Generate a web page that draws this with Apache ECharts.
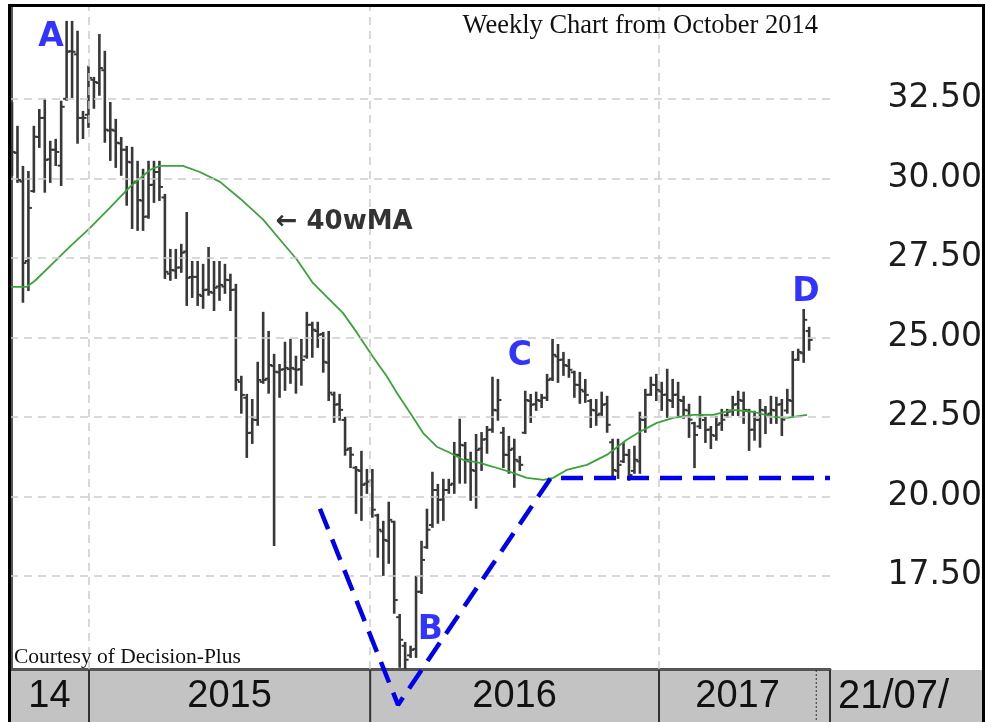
<!DOCTYPE html>
<html><head><meta charset="utf-8">
<script src="https://cdn.jsdelivr.net/npm/echarts@6/dist/echarts.min.js"></script>
<style>html,body{margin:0;padding:0;background:#fff}#c{width:985px;height:722px}</style>
</head><body><div id="c"></div>
<script>
// Weekly OHLC bars (week index = array index, first bar late Sep / early Oct 2014)
const opens = [31.6,30.8,29.9,27.4,29.6,31.3,31.9,30.6,30.9,30.4,
32.5,34.0,33.9,31.9,32.0,33.1,33.0,33.4,31.5,31.5,
31.1,30.9,30.5,29.9,29.3,28.8,29.8,30.2,29.4,27.0,
27.1,27.2,27.7,26.9,26.9,26.3,26.5,26.4,26.6,26.6,
26.8,26.5,23.6,23.1,22.0,22.4,23.6,23.7,24.1,23.9,
24.0,24.0,24.0,24.0,24.4,25.4,25.2,25.1,24.2,23.2,
22.9,22.4,21.5,20.9,20.8,20.4,20.5,19.4,18.9,18.6,
19.2,16.2,15.3,15.0,15.2,17.0,18.4,19.1,20.2,19.9,
20.2,20.4,21.3,21.6,21.1,20.8,21.5,21.8,22.1,22.7,
22.0,21.3,21.5,21.1,22.0,23.0,22.9,23.0,23.1,23.7,
24.4,24.3,24.1,23.9,23.5,23.3,23.0,22.7,22.6,22.9,
21.7,20.8,21.1,21.3,20.8,21.1,22.4,23.2,23.5,23.3,
23.2,23.0,23.2,23.0,22.7,22.3,22.2,22.4,22.1,21.9,
22.3,22.55,22.7,22.9,23.0,22.7,22.1,22.4,22.7,22.6,
22.7,22.9,22.7,23.0,24.3,24.5,25.2];
const highs = [32.37,31.62,30.36,30.20,31.62,32.15,32.47,31.15,31.21,32.41,
34.92,34.92,34.61,32.09,33.51,33.16,34.51,33.98,32.37,31.84,
31.27,30.99,30.96,30.52,30.27,30.52,30.52,30.52,29.48,27.75,
27.75,27.91,28.91,27.37,27.37,27.28,27.81,27.37,27.37,27.28,
26.97,26.65,23.76,23.19,23.03,24.20,25.77,25.17,24.45,24.13,
24.83,24.92,24.39,24.92,25.77,25.46,25.46,25.14,25.17,23.26,
23.19,22.47,21.52,20.92,21.40,20.83,20.83,19.42,19.20,19.80,
19.20,16.27,15.39,15.27,17.47,18.57,19.58,20.74,20.36,20.52,
20.52,21.68,22.41,21.68,21.37,21.93,21.99,22.18,23.73,23.66,
22.15,21.87,21.78,21.24,23.29,23.19,23.26,23.19,23.82,24.92,
24.76,24.51,24.29,23.92,23.88,23.66,23.03,23.03,23.26,23.13,
21.78,21.78,21.68,21.46,21.56,22.63,23.35,23.73,23.82,23.57,
23.98,23.66,23.57,23.13,22.88,22.31,23.13,22.47,22.18,22.50,
22.72,22.72,23.13,23.29,23.26,22.72,22.66,23.03,22.81,23.13,
23.10,23.03,23.35,24.54,24.61,25.86,25.30];
const lows = [30.11,29.89,26.12,26.49,29.58,30.99,29.58,29.89,30.42,29.79,
32.47,32.56,31.12,31.27,31.62,32.22,32.63,31.15,30.58,30.36,
30.11,29.17,28.44,28.38,28.38,28.76,29.26,29.32,26.87,26.81,
26.87,27.06,26.02,26.27,26.02,25.93,26.34,25.86,26.18,26.40,
25.86,23.35,22.63,21.24,21.68,22.25,23.57,23.26,18.47,23.13,
23.35,23.57,23.26,23.51,24.36,24.39,24.70,23.92,23.03,22.34,
22.41,21.31,20.92,19.48,19.26,20.11,19.36,18.10,17.53,17.91,
16.34,14.64,14.60,14.95,14.95,16.96,18.38,19.04,19.17,19.26,
20.11,20.11,20.43,20.43,19.89,19.64,20.83,21.37,22.03,22.41,
20.92,20.74,20.30,20.83,21.99,22.34,22.72,22.81,23.03,23.66,
23.60,23.82,23.76,23.13,22.94,22.97,22.18,22.25,22.56,22.03,
20.58,20.58,21.08,20.52,20.74,20.74,22.03,23.19,23.03,22.72,
22.50,22.81,22.56,22.47,21.87,20.92,22.15,21.71,21.52,21.78,
22.09,22.50,22.56,22.56,22.31,21.46,21.78,21.56,21.99,22.31,
22.31,21.93,22.63,22.56,24.29,24.23,24.61];
const closes = [30.83,29.95,27.34,29.07,31.31,31.90,30.58,30.90,30.83,32.25,
33.98,33.98,31.90,31.90,33.16,33.03,33.47,31.53,31.53,31.12,
30.90,30.52,29.86,29.32,28.79,29.79,30.20,29.73,27.06,27.12,
27.19,27.66,26.87,26.90,26.34,26.49,26.43,26.56,26.65,26.81,
26.49,23.66,23.19,21.99,22.41,23.66,23.66,24.13,23.92,23.98,
24.04,24.04,23.98,24.29,25.39,25.24,25.08,24.23,23.26,22.88,
22.72,21.46,21.31,20.83,20.36,20.46,19.58,18.95,18.63,19.26,
16.74,15.49,14.86,15.17,17.00,18.00,18.95,20.20,19.89,20.20,
20.36,21.31,21.62,21.15,20.83,21.46,21.78,22.09,22.72,23.03,
21.31,21.46,21.15,20.99,23.03,22.88,23.03,23.10,23.66,24.45,
24.29,24.13,23.98,23.51,23.35,23.19,22.72,22.56,22.88,22.25,
20.83,20.99,21.31,20.67,21.15,22.41,23.19,23.51,23.35,23.19,
23.03,23.19,23.03,22.72,22.41,21.93,22.56,22.09,21.93,22.25,
22.41,22.66,22.88,23.03,22.72,22.09,22.41,22.72,22.56,22.72,
22.88,22.41,23.03,24.29,24.54,25.55,24.92];

// 40-week moving average: [week index, value]
const ma40 = [[-0.4,26.59],[2.7,26.59],[4.2,26.78],[7.0,27.25],[10.6,27.85],[14.1,28.41],
[17.9,29.07],[21.6,29.73],[25.3,30.27],[27.1,30.39],[31.3,30.39],[34.4,30.20],[38.1,29.89],
[41.8,29.36],[46.0,28.70],[49.1,28.07],[52.2,27.44],[55.1,26.71],[58.2,26.18],[60.6,25.77],
[63.2,25.14],[66.1,24.39],[68.7,23.76],[70.5,23.25],[72.9,22.63],[75.3,21.99],[77.8,21.56],
[80.2,21.37],[82.6,21.15],[85.7,21.05],[88.1,20.93],[91.2,20.77],[94.3,20.58],[97.3,20.52],
[99.1,20.58],[101.6,20.83],[105.3,20.99],[109.0,21.31],[112.6,21.78],[115.0,22.03],
[118.1,22.31],[121.1,22.47],[124.7,22.56],[128.4,22.56],[132.1,22.72],[135.7,22.66],
[139.4,22.50],[141.9,22.47],[145.6,22.56]];

const yTicks = [17.5,20,22.5,25,27.5,30,32.5];
const yearStarts = [14.1,65.6,118.5];
const bandSegments = [['14',-0.37,14.1,'none'],['2015',14.1,65.6,'solid'],['2016',65.6,118.5,'solid'],
  ['2017',118.5,147.3,'solid'],['',147.3,149.82,'dotted'],['',149.82,149.82,'solid']];
const patternLine = [[56.4,19.61],[70.7,13.44],[98.7,20.58],[149.82,20.58]];
const letterNotes = [[7.14,34.43,'A'],[76.6,15.79,'B'],[93.0,24.40,'C'],[145.4,26.41,'D']];
const maNote = [[48.2,28.63,'\u2190 40wMA']];
const lastDateLabel = '21/07/';
const titleText = 'Weekly Chart from October 2014';
const creditText = 'Courtesy of Decision-Plus';
const xMin = -0.37, xMax = 149.82, yMin = 14.57, yMax = 35.42;

const chart = echarts.init(document.getElementById('c'), null, {renderer:'canvas'});
const barData = highs.map((h,i)=>[i, opens[i], h, lows[i], closes[i]]);

chart.setOption({
  animation:false,
  backgroundColor:'#ffffff',
  title:[
    {text:titleText, right:167, top:13, padding:0,
     textStyle:{fontFamily:'Liberation Serif', fontSize:26.5, fontWeight:'normal', color:'#111'}},
    {text:creditText, left:14, top:646, padding:0,
     textStyle:{fontFamily:'Liberation Serif', fontSize:21.5, fontWeight:'normal', color:'#111'}}
  ],
  grid:[
    {left:10, right:155, top:6, bottom:53},
    {left:10, right:155, top:670, height:52, show:true, backgroundColor:'#c3c3c3', borderWidth:0}
  ],
  xAxis:[
    {type:'value', gridIndex:0, min:xMin, max:xMax, splitLine:{show:false},
     axisLine:{show:true, onZero:false, lineStyle:{color:'#555', width:3}}, axisTick:{show:false}, axisLabel:{show:false}},
    {type:'value', gridIndex:1, min:xMin, max:xMax, show:false}
  ],
  yAxis:[
    {type:'value', gridIndex:0, position:'right', min:yMin, max:yMax, splitLine:{show:false},
     axisLine:{show:true, lineStyle:{color:'#555', width:2}}, axisTick:{show:false},
     axisLabel:{customValues:yTicks, formatter:v=>Number(v).toFixed(2), align:'right', margin:152,
       fontFamily:'DejaVu Sans', fontSize:33, color:'#1c1c1c'}},
    {type:'value', gridIndex:1, min:0, max:1, show:false}
  ],
  series:[
    {type:'line', xAxisIndex:0, yAxisIndex:0, data:[], silent:true,
     markLine:{silent:true, symbol:'none', label:{show:false},
       lineStyle:{type:[8,6], color:'#cccccc', width:1.5},
       data: yTicks.map(v=>({yAxis:v})).concat(yearStarts.map(v=>({xAxis:v})))}},
    {type:'custom', xAxisIndex:1, yAxisIndex:1, data:bandSegments, silent:true,
     renderItem:function(params, api){
       const s = bandSegments[params.dataIndex];
       const a = api.coord([s[1],1]), b = api.coord([s[2],0]);
       const children = [];
       if (s[3] !== 'none') {
         children.push({type:'line', shape:{x1:a[0],y1:a[1],x2:a[0],y2:b[1]},
           style:{stroke:'#333', lineWidth:s[3]==='dotted'?1:2, lineDash:s[3]==='dotted'?[2,2]:null}});
       }
       if (s[0]) {
         children.push({type:'text', x:(a[0]+b[0])/2, y:(a[1]+b[1])/2+1,
           style:{text:s[0], align:'center', verticalAlign:'middle', fontFamily:'Liberation Sans', fontSize:38, fill:'#111'}});
       }
       return {type:'group', children:children};
     }},
    {type:'custom', xAxisIndex:0, yAxisIndex:0, data:barData, encode:{x:0, y:[2,3]}, z:3,
     renderItem:function(params, api){
       const x = api.value(0);
       const pO = api.coord([x, api.value(1)]), pH = api.coord([x, api.value(2)]);
       const pL = api.coord([x, api.value(3)]), pC = api.coord([x, api.value(4)]);
       const st = {stroke:'#383838', lineWidth:2.6};
       return {type:'group', children:[
         {type:'line', shape:{x1:pH[0],y1:pH[1]-1,x2:pL[0],y2:pL[1]+1}, style:st},
         {type:'line', shape:{x1:pO[0]-3.5,y1:pO[1],x2:pO[0],y2:pO[1]}, style:{stroke:'#383838', lineWidth:2}},
         {type:'line', shape:{x1:pC[0],y1:pC[1],x2:pC[0]+3.5,y2:pC[1]}, style:{stroke:'#383838', lineWidth:2}}
       ]};
     }},
    {type:'line', xAxisIndex:0, yAxisIndex:0, data:ma40, symbol:'none', smooth:false, z:4,
     lineStyle:{color:'#3ba33b', width:1.8}},
    {type:'line', xAxisIndex:0, yAxisIndex:0, data:patternLine, symbol:'none', clip:false, z:20,
     lineStyle:{color:'#0000f0', width:4.5, type:[22,11]}},
    {type:'scatter', xAxisIndex:0, yAxisIndex:0, data:letterNotes, symbolSize:1, clip:false, z:21,
     itemStyle:{color:'rgba(0,0,0,0)'},
     label:{show:true, position:'inside', formatter:p=>p.data[2], fontFamily:'DejaVu Sans', fontWeight:'bold', fontSize:33, color:'#0000ff', textBorderWidth:0}},
    {type:'scatter', xAxisIndex:0, yAxisIndex:0, data:maNote, symbolSize:1, clip:false, z:21,
     itemStyle:{color:'rgba(0,0,0,0)'},
     label:{show:true, position:'right', distance:0, formatter:p=>p.data[2], fontFamily:'DejaVu Sans', fontWeight:'bold', fontSize:26, color:'#000'}}
  ],
  graphic:[
    {type:'rect', shape:{x:830, y:670, width:155, height:52}, style:{fill:'#c3c3c3'}, z:1},
    {type:'text', x:838, y:697, style:{text:lastDateLabel, verticalAlign:'middle', fontFamily:'Liberation Sans', fontSize:40, fill:'#111'}, z:2},
    {type:'rect', shape:{x:9.5, y:5.5, width:974, height:720}, style:{fill:null, stroke:'#000', lineWidth:3}, z:30}
  ]
});
</script></body></html>
